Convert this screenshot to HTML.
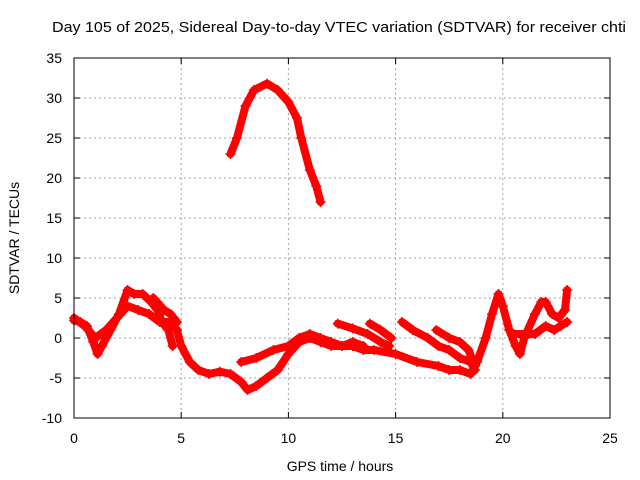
<!DOCTYPE html>
<html><head><meta charset="utf-8"><style>
body{margin:0;background:#fff}
svg{display:block;font-family:"Liberation Sans",sans-serif}
</style></head><body>
<svg id="chart" width="640" height="480">
<text x="339" y="32" font-size="15" text-anchor="middle" textLength="574" lengthAdjust="spacingAndGlyphs">Day 105 of 2025, Sidereal Day-to-day VTEC variation (SDTVAR) for receiver chti</text>
<g id="grid"></g>
<g id="series"></g>
<rect x="74" y="58" width="536" height="360" fill="none" stroke="#000" stroke-width="1"/>
<g id="axes"></g>
<text x="340" y="471" font-size="14" text-anchor="middle">GPS time / hours</text>
<text transform="translate(19,238) rotate(-90)" font-size="14" text-anchor="middle">SDTVAR / TECUs</text>
</svg>
<script>
const xTicks=[0,5,10,15,20,25];
const yTicks=[-10,-5,0,5,10,15,20,25,30,35];
const trackArc=[[7.3,23],[7.6,25],[8,29],[8.4,31],[9,31.8],[9.5,31],[10,29.5],[10.4,27.5],[10.6,25],[11,21],[11.3,19],[11.5,17]];
const trackA=[[0,2.2],[0.3,2],[0.6,1.5],[0.9,-0.5],[1.1,-2],[1.3,-1],[1.7,1],[2.1,3],[2.5,6],[2.8,5.5],[3.2,5.5],[3.6,4.5],[3.9,3.5],[4.1,2],[4.4,1],[4.6,-1]];
const trackB=[[0,2.5],[0.5,1.5],[1,0],[1.5,1],[2,2.5],[2.5,4],[3,3.5],[3.5,3],[4,2],[4.5,2],[4.8,1],[5,-1],[5.4,-3],[5.8,-4],[6.3,-4.5],[6.8,-4.2],[7.3,-4.5],[7.8,-5.5],[8.1,-6.5],[8.5,-6],[9,-5],[9.5,-4],[10,-2],[10.5,-0.5],[11,0],[11.5,-0.5],[12,-1],[12.5,-1],[13,-1],[13.5,-1.5],[14,-1.5],[15,-2],[16,-3],[17,-3.5],[17.5,-4],[18,-4],[18.5,-4.5],[18.8,-3],[19.2,0],[19.5,3],[19.8,5.5],[20,4],[20.3,1],[20.6,-1],[20.8,-2],[21,0],[21.5,3],[21.8,4.5],[22,4.5],[22.3,3],[22.6,2.5],[22.9,3.5],[23,6]];
const trackC=[[3.7,5],[4.2,3.5],[4.5,3],[4.8,2]];
const trackD=[[7.8,-3],[8.5,-2.5],[9.3,-1.5],[10,-1],[10.5,0],[11,0.5],[11.5,0],[12,-0.5],[12.5,-1],[13,-0.5],[13.5,-1]];
const trackE=[[12.3,1.8],[13,1.2],[13.7,0.5],[14.3,-0.5],[14.7,-1]];
const trackF=[[13.8,1.8],[14.3,1],[14.8,0]];
const trackG=[[15.3,2],[15.8,1],[16.5,0],[17,-1],[17.5,-1.5],[18,-2.5],[18.5,-3],[18.7,-4]];
const trackH=[[16.9,1],[17.5,0],[18,-0.5],[18.4,-1.5],[18.7,-3.5]];
const trackI=[[20.5,0.5],[21,0.5],[21.5,0.5],[22,1.5],[22.4,1],[22.7,1.5],[23,2]];
const tracks=[trackArc,trackA,trackB,trackC,trackD,trackE,trackF,trackG,trackH,trackI];
const X=t=>74+t*536/25, Y=v=>338-v*8;
const NS="http://www.w3.org/2000/svg";
const grid=document.getElementById('grid'),axes=document.getElementById('axes'),ser=document.getElementById('series');
xTicks.forEach(t=>{
 if(t>0&&t<25){const l=document.createElementNS(NS,'line');l.setAttribute('x1',X(t));l.setAttribute('x2',X(t));l.setAttribute('y1',58);l.setAttribute('y2',418);l.setAttribute('stroke','#a0a0a0');l.setAttribute('stroke-dasharray','2,3');
 
 
 grid.appendChild(l);}
 const tx=document.createElementNS(NS,'text');tx.setAttribute('x',X(t));tx.setAttribute('y',443);tx.setAttribute('font-size','14');tx.setAttribute('text-anchor','middle');tx.textContent=t;
 
 
 axes.appendChild(tx);
 const k=document.createElementNS(NS,'path');k.setAttribute('d',`M${X(t)},418v-6M${X(t)},58v6`);k.setAttribute('stroke','#000');
 
 
 axes.appendChild(k);
});
yTicks.forEach(v=>{
 if(v>-10&&v<35){const l=document.createElementNS(NS,'line');l.setAttribute('x1',74);l.setAttribute('x2',610);l.setAttribute('y1',Y(v));l.setAttribute('y2',Y(v));l.setAttribute('stroke','#a0a0a0');l.setAttribute('stroke-dasharray','2,3');
 
 
 grid.appendChild(l);}
 const tx=document.createElementNS(NS,'text');tx.setAttribute('x',62);tx.setAttribute('y',Y(v)+5);tx.setAttribute('font-size','14');tx.setAttribute('text-anchor','end');tx.textContent=v;
 
 
 axes.appendChild(tx);
 const k=document.createElementNS(NS,'path');k.setAttribute('d',`M74,${Y(v)}h6M610,${Y(v)}h-6`);k.setAttribute('stroke','#000');
 
 
 axes.appendChild(k);
});
tracks.forEach(tr=>{
 const p=document.createElementNS(NS,'polyline');
 p.setAttribute('points',tr.map(d=>X(d[0])+','+Y(d[1])).join(' '));
 p.setAttribute('fill','none');p.setAttribute('stroke','#ff0000');p.setAttribute('stroke-width','8');p.setAttribute('stroke-linejoin','round');p.setAttribute('stroke-linecap','round');
 
 
 ser.appendChild(p);
 tr.forEach(d=>{
  const m=document.createElementNS(NS,'path');
  m.setAttribute('d',`M${X(d[0])-5},${Y(d[1])}h10M${X(d[0])},${Y(d[1])-5}v10`);
  m.setAttribute('stroke','#ff0000');m.setAttribute('stroke-width','1.5');
  
  
  ser.appendChild(m);
 });
});
</script>
</body></html>
